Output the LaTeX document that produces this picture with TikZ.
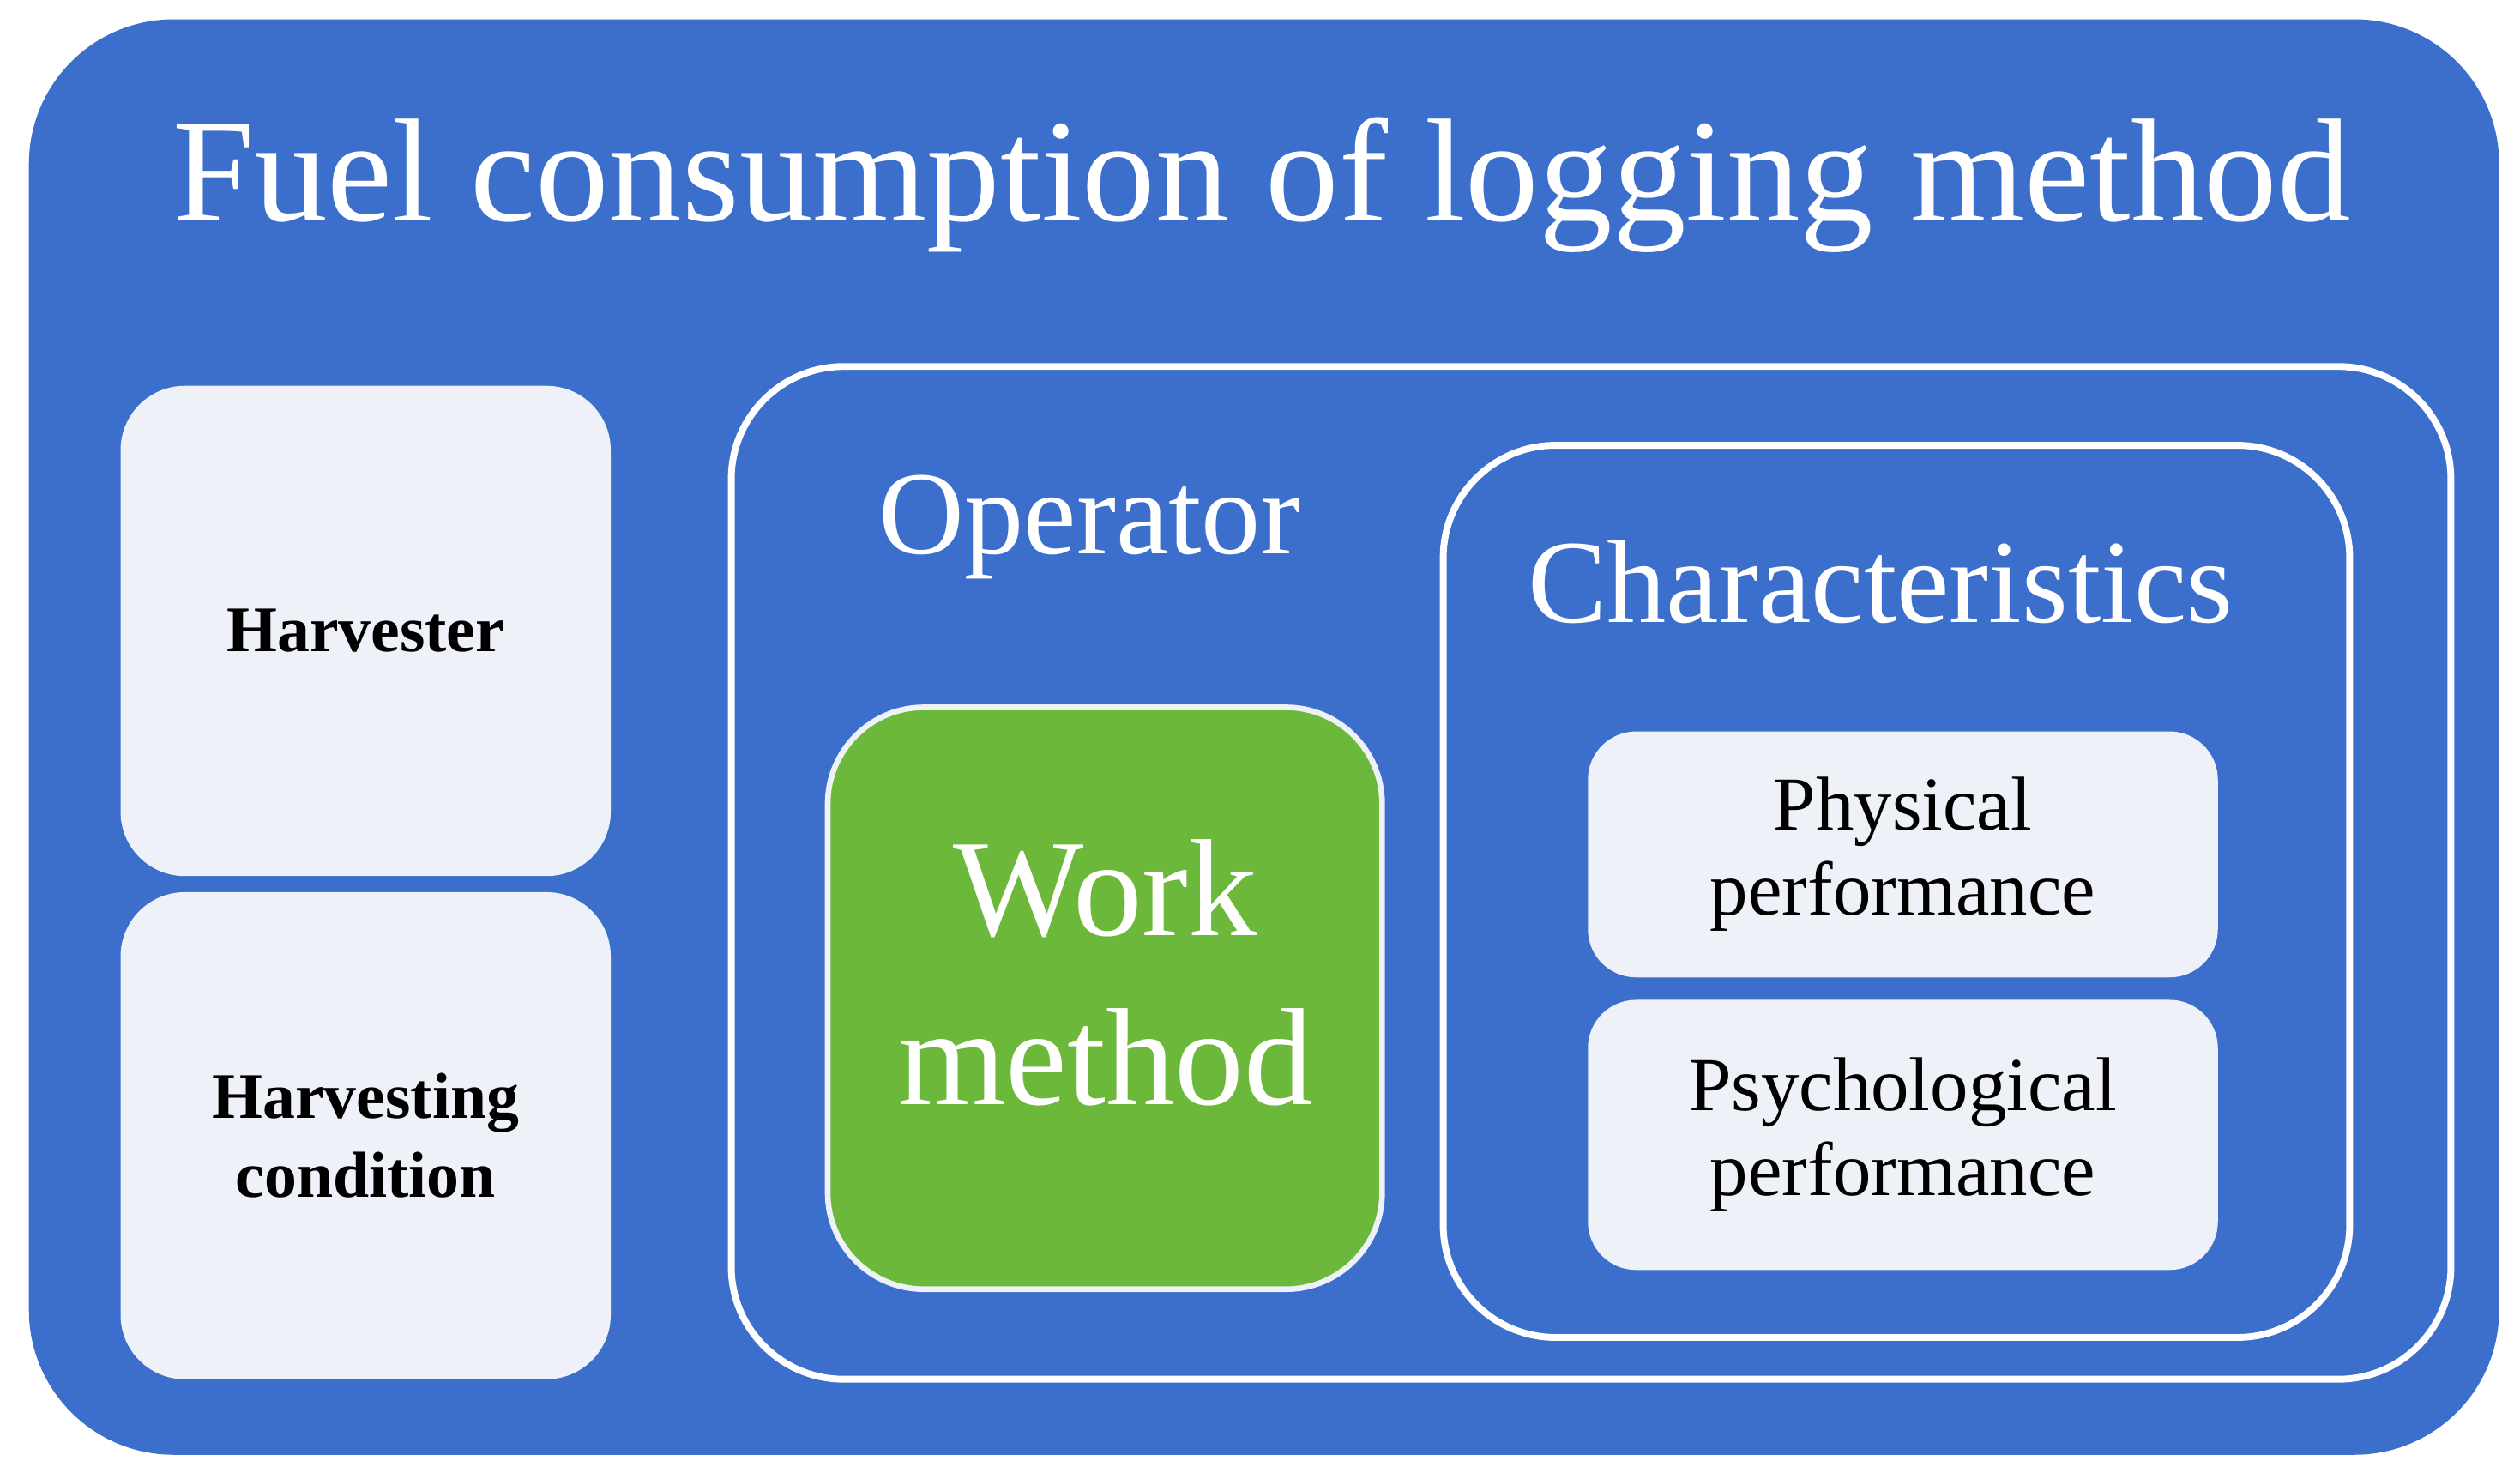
\documentclass[tikz,border=0pt]{standalone}
\usepackage{fontspec}
\setmainfont{Liberation Serif}
\definecolor{bg}{HTML}{3B6FCB}
\definecolor{pale}{HTML}{EEF1F7}
\definecolor{grn}{HTML}{6CB83A}
\begin{document}
\begin{tikzpicture}[x=0.1mm,y=-0.1mm,
  box/.style={fill=pale,rounded corners=4mm},
  frame/.style={draw=white,line width=1.2pt,rounded corners=7mm},
  wt/.style={text=white,font=\fontsize{21}{24}\selectfont},
  bt/.style={font=\bfseries\fontsize{11.5}{14}\selectfont,align=center},
  pt/.style={font=\fontsize{13.5}{15}\selectfont,align=center}]
\useasboundingbox (0,0) rectangle (1568,916);
\fill[bg,rounded corners=9mm] (18,12) rectangle (1555,905);
\node[text=white,font=\fontsize{26}{30}\selectfont] (title) at (785,115) {Fuel consumption of logging method};
\path[box] (75,240) rectangle (380,545) node[midway,bt] (harv) {Harvester};
\path[box] (75,555) rectangle (380,858) node[midway,bt] (cond) {Harvesting\\condition};
\draw[frame] (455,228) rectangle (1525,858);
\node[wt] (op) at (678,328) {Operator};
\draw[fill=grn,draw=pale,line width=1pt,rounded corners=6mm] (515,440) rectangle (860,802);
\node[text=white,font=\fontsize{24.5}{30}\selectfont,align=center] (wm) at (688,605) {Work\\method};
\draw[frame] (898,277) rectangle (1462,832);
\node[wt] (ch) at (1170,362) {Characteristics};
\path[box,rounded corners=3mm] (988,455) rectangle (1380,608) node[midway,pt] (phys) {Physical\\performance};
\path[box,rounded corners=3mm] (988,622) rectangle (1380,790) node[midway,pt] (psy) {Psychological\\performance};
\end{tikzpicture}
\end{document}
